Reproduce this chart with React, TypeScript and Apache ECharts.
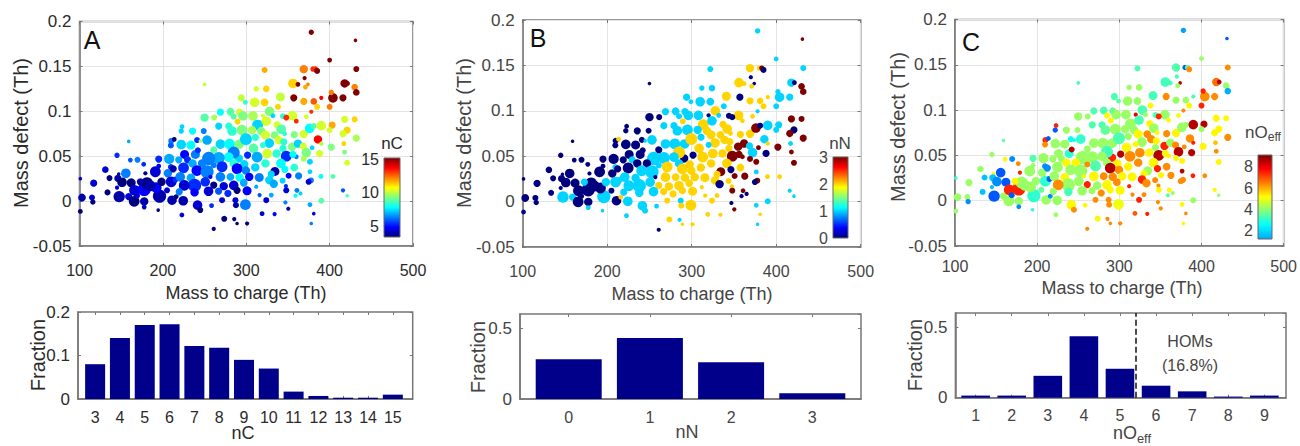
import React, { useEffect, useRef } from "react";
import * as echarts from "echarts";

// [mass to charge, mass defect, bubble diameter, nC, nN, nOeff]
const peaksTop: number[][] = [
  [378, 0.188, 4.5, 15, 1, 1.7], [431, 0.179, 3, 15, 3, 1], [400, 0.157, 4, 15, 1, 4], [432, 0.147, 5, 15, 1, 6],
  [369, 0.147, 7, 12, 2, 3.3], [322, 0.146, 5, 11.5, 1, 3.3], [380, 0.147, 4.5, 13, 2, 1], [383, 0.147, 4.5, 13, 3, 3.5],
  [385, 0.145, 5, 15, 0, 6], [250, 0.13, 3, 9.8, 0, 3.2], [418, 0.131, 7, 15, 1, 6.3], [421.5, 0.131, 4, 15, 0, 8],
  [430, 0.127, 5.5, 12, 3, 4], [432, 0.121, 5.5, 15, 3, 1.8], [356, 0.131, 8, 11, 2, 3.2], [362, 0.13, 4, 15, 2, 3.2],
  [370, 0.137, 3.5, 15, 0, 3.2], [374, 0.13, 3, 12, 0, 8], [371, 0.127, 4, 11.5, 2, 4], [312, 0.125, 4.5, 10, 1, 4],
  [324, 0.125, 5.5, 11, 1, 4], [341, 0.116, 7.5, 9.8, 2, 3.2], [357, 0.115, 6, 15, 0, 6], [294, 0.115, 6, 9.8, 1, 3.3],
  [299, 0.11, 4, 8, 1, 3.4], [310, 0.11, 8, 10, 1, 4], [322, 0.11, 6.5, 11, 1, 4], [369, 0.111, 6, 11.5, 2, 4],
  [381, 0.111, 5.5, 12.5, 2, 4], [390, 0.115, 3.5, 13.5, 2, 3.2], [404, 0.115, 8, 15, 1, 6], [416, 0.115, 6, 15, 1, 6],
  [402, 0.121, 4.5, 12, 1, 7], [400, 0.105, 5, 12, 1, 7], [385, 0.105, 5, 11, 2, 5], [338, 0.105, 5, 11, 1, 5],
  [328, 0.1, 8, 9, 2, 3.3], [378, 0.0995, 3.5, 13, 1, 6], [418, 0.091, 6, 10, 3, 5], [430, 0.091, 5, 11, 3, 5],
];

const peaksUpperBand: number[][] = [
  [269, 0.099, 6, 7.5, 1, 3.3], [281, 0.0995, 6.5, 8.5, 1, 3.3], [292, 0.099, 6, 10, 1, 3.5], [250, 0.093, 7, 8.5, 0, 4],
  [261.5, 0.093, 5, 9.5, 0, 4], [285, 0.094, 5, 8.5, 1, 5], [296, 0.095, 8, 9, 1, 4], [308, 0.095, 8, 9.5, 1, 4],
  [320, 0.095, 3.5, 10, 0, 7.5], [332, 0.095, 4, 7, 1, 4], [344, 0.0945, 5, 8, 0, 3.3], [355.5, 0.095, 8, 10, 2, 4],
  [348, 0.093, 5, 13, 0, 7], [372, 0.094, 4, 10, 2, 5], [360, 0.089, 4, 13, 2, 5], [289.5, 0.0885, 5, 11, 2, 5],
  [313.6, 0.0847, 9, 7, 2, 4], [324, 0.089, 8, 10, 1, 3.3], [337, 0.085, 6, 10, 2, 5], [342, 0.08, 8, 8.5, 2, 4],
  [267, 0.0836, 6, 7, 1, 3.3], [279, 0.0836, 6, 8, 1, 3.3], [283, 0.078, 8, 8, 1, 3.5], [295, 0.079, 9, 9, 1, 4],
  [307, 0.079, 7, 9.5, 1, 4], [318, 0.078, 7, 9, 2, 4], [223, 0.083, 4, 7, 0, 7], [222, 0.078, 4.5, 7, 0, 1],
  [235.6, 0.078, 6, 7.5, 0, 4], [249, 0.078, 5, 6, 0, 4], [346, 0.075, 4, 8, 2, 5], [357.6, 0.074, 6, 9, 2, 6],
  [369, 0.0747, 7, 10, 2, 5], [376, 0.081, 8, 7.5, 3, 4], [381, 0.0836, 5, 8.5, 0, 4], [390, 0.084, 8, 10, 1, 8],
  [403, 0.0845, 6, 11.5, 1, 8], [400, 0.079, 5, 10, 1, 4], [421, 0.079, 6, 11, 0, 5], [416, 0.075, 6, 10, 3, 5],
  [386, 0.0687, 7, 13.5, 1, 6], [390, 0.064, 3.5, 9.5, 2, 7], [402, 0.06, 6, 9, 3, 5], [432, 0.07, 6, 9.5, 3, 6],
  [417, 0.064, 4, 11, 1, 5.5], [418, 0.0546, 4, 9, 3, 6], [421, 0.0427, 5, 10, 3, 5], [388, 0.053, 6, 10, 0, 8],
];

const peaksMiddle: number[][] = [
  [159, 0.0665, 3, 6.5, 0, 3.5], [145, 0.051, 4.5, 5, 0, 4], [161, 0.0457, 4, 5.5, 0, 5], [169.6, 0.046, 5, 6, 0, 1.5],
  [177, 0.041, 4, 5, 0, 6], [210, 0.067, 5, 6, 0, 7], [209.6, 0.062, 5, 5.5, 0, 6], [213.6, 0.0687, 4, 3, 2, 1],
  [222, 0.063, 8, 7, 0, 4], [233.6, 0.0624, 7.5, 7.5, 0, 4], [241, 0.068, 5, 5, 0, 2.6], [245, 0.0669, 3, 9.5, 1, 2.6],
  [253, 0.068, 8, 6.5, 1, 3], [261, 0.057, 6, 8.5, 0, 4], [269, 0.0635, 8, 7, 1, 4], [280, 0.0635, 9, 7.5, 1, 4],
  [291.6, 0.0635, 8, 9, 1, 4], [299.6, 0.069, 10, 7, 2, 3.3], [311, 0.071, 6, 8, 1, 4], [323, 0.0735, 7.5, 10, 2, 5],
  [334, 0.0735, 6.5, 9, 2, 6], [327.6, 0.0646, 8, 7, 2, 4], [338.8, 0.068, 7, 10, 2, 6], [308.8, 0.0587, 8, 8.5, 2, 5],
  [320, 0.0624, 5, 8, 1, 5], [344, 0.0587, 6, 8, 2, 4], [355, 0.0605, 7, 9, 3, 7], [362, 0.064, 7, 7, 3, 4],
  [368.4, 0.0613, 6, 10, 1, 6], [379, 0.0594, 4, 7, 3, 6], [372, 0.054, 8, 9, 1, 8], [360, 0.0494, 4, 6, 3, 5],
  [348, 0.05, 9, 5, 3, 8], [325, 0.053, 8, 10, 2, 6], [336.4, 0.053, 7, 8, 2, 5], [313, 0.049, 9, 6.5, 2, 6],
  [301.6, 0.0513, 6, 5, 0, 8], [291, 0.0475, 7, 7, 0, 7], [285, 0.054, 10, 6, 2, 3.2], [279, 0.049, 8, 7.5, 1, 4],
  [267, 0.048, 10, 6.5, 1, 4], [255, 0.0475, 11, 6, 1, 4], [239, 0.052, 7.5, 6, 0, 3], [242, 0.0565, 5, 5, 0, 8],
  [226, 0.052, 7.5, 4.5, 0, 4], [219, 0.046, 6, 6.5, 0, 4], [229.6, 0.046, 6, 5, 1, 4], [247, 0.042, 7, 6, 0, 5],
  [235.6, 0.042, 7, 6.5, 0, 5], [224.8, 0.037, 9, 5, 0, 4], [240.8, 0.034, 9, 4.5, 1, 4], [253, 0.0327, 11, 6, 1, 4],
  [271, 0.0383, 9, 5, 2, 3.3], [261, 0.04, 5, 6, 1, 6], [285, 0.042, 7, 8, 1, 4], [297.6, 0.041, 7, 7, 2, 5],
  [289, 0.036, 9, 4.5, 2, 8], [299.6, 0.034, 7, 6, 2, 6], [310.8, 0.0375, 7, 7, 2, 5], [323, 0.042, 7, 8, 2, 6],
  [341.6, 0.042, 8, 7.5, 2, 5], [346.4, 0.0353, 6, 7.5, 0, 7], [357.6, 0.0375, 6.5, 8, 2, 6], [376.4, 0.0438, 5, 7, 3, 5],
  [334.4, 0.033, 7.5, 3.5, 3, 4], [350.8, 0.0282, 5, 4.5, 3, 5], [362.8, 0.028, 6, 6, 3, 6], [376.4, 0.0327, 4, 7, 1, 8],
  [377.6, 0.023, 5, 6, 3, 6], [374.8, 0.0215, 5, 4, 0, 6], [389.6, 0.0275, 4, 7.5, 2, 7], [404, 0.0275, 4, 8.5, 2, 6],
  [345, 0.066, 6, 8, 2, 5], [369, 0.047, 5, 9.5, 3, 5], [330, 0.03, 6, 7, 2, 5], [356, 0.052, 6, 7.5, 3, 5],
];

const peaksLeft: number[][] = [
  [131, 0.035, 5.5, 4, 0, 4], [136, 0.0256, 5, 3, 0, 2], [147, 0.03, 3, 3.5, 0, 5], [155.6, 0.031, 8, 6, 0, 1],
  [146, 0.0253, 6, 3.5, 0, 2], [151, 0.021, 8, 3, 0, 1.5], [117, 0.02, 6, 4, 0, 4], [101, 0.025, 3, 4, 0, 3],
  [103, 0.004, 6.5, 3.5, 0, 4], [115, 0.004, 5, 4, 0, 4], [116, -0.001, 4.5, 3, 0, 1.5], [101, -0.0115, 4, 3, 0, 4],
  [133.6, 0.0097, 5, 3, 0, 2], [145, 0.015, 3.5, 4, 0, 2], [147.6, 0.005, 9.5, 3.5, 1, 1], [159, 0.005, 6, 4, 1, 4],
  [165.6, -0.0003, 9, 3, 0, 4], [162, 0.0204, 7.5, 3, 0, 1], [166, 0.012, 9, 4, 0, 7], [177.6, -0.0004, 7, 3.5, 0, 4],
  [177.6, 0.013, 11, 4.5, 0, 7], [181, 0.02, 10, 3, 0, 4], [173, 0.0215, 6, 3.5, 1, 5], [179, 0.031, 3.5, 3, 0, 7],
  [177.6, -0.0067, 4, 4, 1, 1.5], [196, 0.0055, 11, 3.5, 1, 3], [192, 0.015, 9, 4.5, 0, 4], [198.4, 0.0215, 7, 3, 1, 4],
  [194.4, -0.01, 3, 3, 1, 3], [195, 0.0468, 6, 5, 0, 3.3], [195, 0.039, 4, 4.5, 0, 4], [191, 0.0327, 9, 4, 0, 4],
  [185, 0.017, 9, 3.5, 0, 4], [169, 0.006, 5, 4, 0, 1], [211, 0.001, 8, 3.5, 0, 4], [206, 0.031, 7, 6, 0, 4],
  [207.6, 0.047, 8.5, 6.5, 0, 4], [209.6, 0.038, 5, 5, 1, 1.5], [210, 0.0215, 9, 4, 1, 3], [212.4, 0.036, 6, 3.5, 0, 1.5],
  [205, 0.012, 5, 4, 0, 3.5], [216, 0.005, 4, 3, 2, 1.5], [215, 0.024, 5, 5, 1, 1],
];

const peaksLower: number[][] = [
  [220.8, 0.027, 8, 6, 1, 4], [233.6, 0.026, 7, 6.5, 1, 5], [238, 0.0175, 11, 5, 1, 4], [225.6, 0.0175, 9, 4, 1, 6],
  [250.8, 0.0215, 8, 5, 1, 4], [257, 0.027, 3.5, 4, 0, 5], [269, 0.027, 8, 6, 2, 5], [281, 0.027, 6.5, 6.5, 2, 6],
  [292, 0.0264, 7, 7.5, 2, 6], [303.6, 0.027, 7, 4.5, 2, 5], [315.6, 0.0264, 7.5, 6, 2, 5], [327.6, 0.0234, 7, 7, 2, 7],
  [343.6, 0.0227, 5, 7, 2, 6], [261, 0.0178, 6, 3, 2, 7], [273, 0.0167, 7, 4, 2, 4], [285, 0.0175, 8, 4, 2, 5],
  [297, 0.0204, 6.5, 6.5, 2, 6], [312, 0.016, 3.5, 6.5, 2, 7], [333, 0.0193, 7, 6.5, 0, 6], [347.6, 0.0167, 3.5, 5, 2, 6],
  [348, 0.012, 5, 4, 3, 5], [360.8, 0.012, 4, 6, 3, 5], [365, 0.0085, 3.5, 7, 0, 4], [359, 0.006, 3.5, 7.5, 0, 3.5],
  [416, 0.012, 3.5, 5.5, 1, 5], [421, 0.006, 3, 8.5, 1, 4], [219.6, 0.0104, 6, 6, 1, 4], [238, 0.0097, 7, 4.5, 1, 3.2],
  [254.8, 0.011, 8, 4, 1, 4], [266.8, 0.011, 6, 5.5, 2, 4], [278, 0.0085, 6, 5, 2, 6], [289, 0.012, 6, 3, 2, 5],
  [301, 0.0115, 7.5, 4.5, 2, 5], [271, 0.001, 5, 4, 2, 6], [287, 0.001, 5, 4, 1, 6], [299, -0.004, 9, 6, 2, 4.8],
  [316, 0.0067, 3.5, 5.5, 2, 6], [324, 0.001, 5, 4, 2, 7], [330, 0.0067, 4, 6.5, 2, 6], [347, -0.0015, 3.5, 6, 0, 6],
  [376.4, -0.004, 4, 6.5, 1, 5], [390, 0.0004, 5, 8.5, 1, 4], [224.4, 0.0004, 8, 3.5, 1, 4], [241.6, -0.0045, 8, 4, 1, 5],
  [244.8, -0.01, 5, 3, 1, 6], [258.4, -0.005, 4, 5, 1, 5], [287.6, -0.0045, 5, 3.5, 2, 6], [350.4, -0.0085, 3.5, 3.5, 3, 6],
  [381, -0.014, 3, 4, 2, 6], [222.8, -0.0155, 4, 4, 1, 4], [273.6, -0.0197, 5, 3, 2, 5], [285.6, -0.02, 3.5, 3, 1, 6],
  [261, -0.031, 3.5, 3, 0, 6], [289, -0.025, 3, 3, 2, 6], [301, -0.025, 3.5, 3, 2, 6], [319, -0.014, 4, 4, 2, 6.5],
  [334, -0.0145, 3.5, 4.5, 2, 7], [378, -0.025, 3, 6, 1, 5],
];

const peaks = [...peaksTop, ...peaksUpperBand, ...peaksMiddle, ...peaksLeft, ...peaksLower];

const nCCategories = [3, 4, 5, 6, 7, 8, 9, 10, 11, 12, 13, 14, 15];
const nCFractions = [0.08, 0.14, 0.17, 0.172, 0.122, 0.118, 0.09, 0.07, 0.017, 0.007, 0.003, 0.003, 0.01];
const nNCategories = [0, 1, 2, 3];
const nNFractions = [0.28, 0.43, 0.26, 0.04];
const nOCategories = [1, 2, 3, 4, 5, 6, 7, 8, 9];
const nOFractions = [0.015, 0.015, 0.155, 0.435, 0.205, 0.085, 0.045, 0.008, 0.015];
const homsThreshold = 5.45;

const JET = ["#00007f", "#0000ff", "#007fff", "#00ffff", "#7fff7f", "#ffff00", "#ff7f00", "#ff0000", "#7f0000"];
const JET_C = ["#00a8ff", "#00ffff", "#7fff7f", "#ffff00", "#ff7f00", "#ff0000", "#7f0000"];
const FONT = "Liberation Sans";
const FRAME = "#777777";

type Box = { left: number; top: number; width: number; height: number };

const panels = [
  { letter: "A", lx: 92, ly: 40, dim: 3, vmin: 3, vmax: 15, text: "#2a2a2a", xMargin: 16,
    box: { left: 79.5, top: 21.5, width: 333.5, height: 224.5 }, xName: [246, 293], yName: [21, 133],
    barBox: { left: 384, top: 158, width: 16, height: 79 }, barMin: 3.4, barMax: 15.2, barTicks: [5, 10, 15], jet: JET,
    barTitle: "nC", tx: 392, ty: 143,
    lower: { left: 78, top: 312, width: 334.7, height: 87 }, cats: nCCategories, vals: nCFractions, xr: [2.31, 15.8], ymax: 0.2, yi: 0.1, bw: 20,
    lowerName: "nC", lnx: 243, lny: 433, fx: 38, fy: 355 },
  { letter: "B", lx: 538, ly: 38, dim: 4, vmin: 0, vmax: 3, text: "#444444", xMargin: 16,
    box: { left: 522.7, top: 20, width: 338, height: 227 }, xName: [692, 294], yName: [464, 133],
    barBox: { left: 833, top: 157, width: 15, height: 81 }, barMin: 0, barMax: 3, barTicks: [0, 1, 2, 3], jet: JET,
    barTitle: "nN", tx: 840, ty: 143,
    lower: { left: 520, top: 314, width: 341, height: 85 }, cats: nNCategories, vals: nNFractions, xr: [-0.6, 3.6], ymax: 0.6, yi: 0.5, bw: 66,
    lowerName: "nN", lnx: 687, lny: 432, fx: 478, fy: 357 },
  { letter: "C", lx: 971, ly: 42, dim: 5, vmin: -1, vmax: 8.5, text: "#444444", xMargin: 12,
    box: { left: 955, top: 19.5, width: 330, height: 226.5 }, xName: [1122, 288], yName: [898, 127],
    barBox: { left: 1258, top: 155, width: 14, height: 84 }, barMin: 1.25, barMax: 9.1, barTicks: [2, 4, 6, 8], jet: JET_C,
    barTitle: "nO{s|eff}", tx: 1263, ty: 132,
    lower: { left: 955.4, top: 313, width: 330.6, height: 84.7 }, cats: nOCategories, vals: nOFractions, xr: [0.44, 9.6], ymax: 0.6, yi: 0.5, bw: 28.6,
    lowerName: "nO{s|eff}", lnx: 1132, lny: 433, fx: 915, fy: 355 },
];

function buildOption() {
  const grid: any[] = [];
  const xAxis: any[] = [];
  const yAxis: any[] = [];
  const series: any[] = [];
  const visualMap: any[] = [];
  const graphic: any[] = [];

  const addGrid = (b: Box, frame: boolean) => {
    grid.push({ ...b, show: frame, borderColor: FRAME, borderWidth: 1.5, backgroundColor: "transparent", containLabel: false });
    return grid.length - 1;
  };
  const label = (x: number, y: number, text: string, size: number, color: string, rotation = 0, weight: any = "normal") => ({
    type: "text", x, y, rotation, silent: true, z: 20,
    style: {
      text, fill: color, fontSize: size, fontFamily: FONT, fontWeight: weight, align: "center", verticalAlign: "middle",
      rich: { s: { fontSize: size * 0.72, fontFamily: FONT, fill: color, verticalAlign: "bottom", padding: [size * 0.6, 0, 0, 0] } },
    },
  });

  panels.forEach((p) => {
    // ---- bubble panel
    const g = addGrid(p.box, true);
    const tick = { show: true, inside: true, length: 3, lineStyle: { color: FRAME, width: 1 } };
    const hidden = { show: false };
    const frameLine = { onZero: false, lineStyle: { color: FRAME, width: 1.5 } };
    const xi = xAxis.length;
    xAxis.push({
      type: "value", gridIndex: g, min: 100, max: 500, interval: 100, position: "bottom",
      axisLine: frameLine, axisTick: tick,
      axisLabel: { color: p.text, fontSize: 16, fontFamily: FONT, margin: p.xMargin },
      splitLine: { show: true, lineStyle: { color: "#e4e4e4", width: 1 } },
    });
    xAxis.push({
      type: "value", gridIndex: g, min: 100, max: 500, interval: 100, position: "top",
      axisLine: { show: false, onZero: false }, axisTick: tick, axisLabel: hidden, splitLine: hidden,
    });
    const yi = yAxis.length;
    yAxis.push({
      type: "value", gridIndex: g, min: -0.05, max: 0.2, interval: 0.05, position: "left",
      axisLine: frameLine, axisTick: tick,
      axisLabel: { color: p.text, fontSize: 17, fontFamily: FONT, margin: 8 },
      splitLine: { show: true, lineStyle: { color: "#e4e4e4", width: 1 } },
    });
    yAxis.push({
      type: "value", gridIndex: g, min: -0.05, max: 0.2, interval: 0.05, position: "right",
      axisLine: { show: false, onZero: false }, axisTick: tick, axisLabel: hidden, splitLine: hidden,
    });
    visualMap.push({
      show: false, type: "continuous", seriesIndex: series.length, dimension: p.dim,
      min: p.vmin, max: p.vmax, inRange: { color: JET },
    });
    series.push({
      type: "scatter", xAxisIndex: xi, yAxisIndex: yi, data: peaks, clip: true,
      symbol: "circle", symbolSize: (v: number[]) => v[2] * 1.2, itemStyle: { opacity: 1 },
      emphasis: { disabled: true }, silent: true,
    });
    graphic.push(label(p.lx, p.ly, p.letter, 25, "#111111"));
    graphic.push(label(p.xName[0], p.xName[1], "Mass to charge (Th)", 18, p.text));
    graphic.push(label(p.yName[0], p.yName[1], "Mass defect (Th)", 20, p.text, Math.PI / 2));

    // ---- colour bar
    const cb = addGrid(p.barBox, false);
    xAxis.push({ type: "value", gridIndex: cb, min: 0, max: 1, show: false });
    yAxis.push({
      type: "value", gridIndex: cb, min: p.barMin, max: p.barMax, position: "left",
      axisLine: { show: false, onZero: false }, axisTick: hidden, splitLine: hidden,
      axisLabel: { color: p.text, fontSize: 16, fontFamily: FONT, margin: 5, customValues: p.barTicks },
    });
    graphic.push({
      type: "rect", silent: true, z: 15,
      shape: { x: p.barBox.left, y: p.barBox.top, width: p.barBox.width, height: p.barBox.height },
      style: {
        stroke: "#666666", lineWidth: 1,
        fill: new echarts.graphic.LinearGradient(0, 1, 0, 0,
          p.jet.map((color, i) => ({ offset: i / (p.jet.length - 1), color }))),
      },
    });
    graphic.push(label(p.tx, p.ty, p.barTitle, 17, p.text));

    // ---- fraction bars
    const low = addGrid(p.lower, true);
    const bx = xAxis.length;
    const barTick = { show: true, inside: true, length: 3, lineStyle: { color: FRAME, width: 1 }, customValues: p.cats };
    xAxis.push({
      type: "value", gridIndex: low, min: p.xr[0], max: p.xr[1], position: "bottom",
      axisLine: frameLine, axisTick: barTick,
      axisLabel: { color: p.text, fontSize: 16, fontFamily: FONT, margin: 10, customValues: p.cats },
      splitLine: hidden,
    });
    xAxis.push({
      type: "value", gridIndex: low, min: p.xr[0], max: p.xr[1], position: "top",
      axisLine: { show: false, onZero: false }, axisTick: barTick, axisLabel: hidden, splitLine: hidden,
    });
    const by = yAxis.length;
    yAxis.push({
      type: "value", gridIndex: low, min: 0, max: p.ymax, interval: p.yi, position: "left",
      axisLine: frameLine,
      axisTick: { show: true, inside: true, length: 3, lineStyle: { color: FRAME, width: 1 } },
      axisLabel: { color: p.text, fontSize: 17, fontFamily: FONT, margin: 8, showMaxLabel: p.ymax === 0.2 },
      splitLine: hidden,
    });
    yAxis.push({
      type: "value", gridIndex: low, min: 0, max: p.ymax, interval: p.yi, position: "right",
      axisLine: { show: false, onZero: false },
      axisTick: { show: true, inside: true, length: 3, lineStyle: { color: FRAME, width: 1 } },
      axisLabel: hidden, splitLine: hidden,
    });
    const isC = p.letter === "C";
    series.push({
      type: "bar", xAxisIndex: bx, yAxisIndex: by, barWidth: p.bw, silent: true,
      data: p.cats.map((c, i) => [c, p.vals[i]]),
      itemStyle: { color: "#00008b" },
      ...(isC ? {
        markLine: {
          silent: true, symbol: "none", animation: false, label: { show: false },
          lineStyle: { color: "#111111", type: "dashed", width: 1.5 },
          data: [[{ coord: [homsThreshold, 0] }, { coord: [homsThreshold, p.ymax] }]],
        },
      } : {}),
    });
    graphic.push(label(p.fx, p.fy, "Fraction", 20, p.text, Math.PI / 2));
    graphic.push(label(p.lnx, p.lny, p.lowerName, 18, p.text));
    if (isC) {
      graphic.push(label(1190, 341, "HOMs", 16, p.text));
      graphic.push(label(1190, 365, "(16.8%)", 16, p.text));
    }
  });

  return { animation: false, backgroundColor: "#ffffff", grid, xAxis, yAxis, series, visualMap, graphic };
}

export default function App() {
  const ref = useRef<HTMLDivElement>(null);
  useEffect(() => {
    if (!ref.current) return;
    const chart = echarts.init(ref.current, undefined, { renderer: "svg" });
    chart.setOption(buildOption() as any);
    return () => chart.dispose();
  }, []);
  return <div ref={ref} style={{ position: "absolute", left: 0, top: 0, width: 1300, height: 446 }} />;
}
